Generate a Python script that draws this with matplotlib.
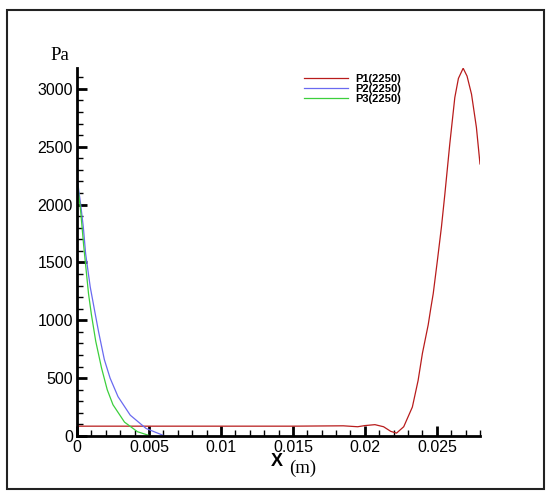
import numpy as np
import matplotlib.pyplot as plt
from matplotlib.patches import Rectangle
from matplotlib.ticker import MultipleLocator

# P1 (red) - pressure along x
x1 = [0.0, 0.005, 0.010, 0.015, 0.0185, 0.0195, 0.0200, 0.0207, 0.0213, 0.0218, 0.0222,
      0.0227, 0.0233, 0.0237, 0.0240, 0.0244, 0.02458, 0.02475, 0.02504, 0.02532, 0.02556,
      0.0259, 0.02625, 0.0265, 0.02683, 0.0271, 0.02741, 0.02775, 0.0280]
p1 = [85, 85, 85, 85, 88, 80, 90, 98, 80, 40, 25,
      80, 250, 480, 715, 960, 1103, 1230, 1517, 1805, 2092,
      2523, 2925, 3090, 3178, 3110, 2954, 2667, 2351]

# P2 (blue)
x2 = [0.0, 0.00025, 0.00044, 0.0006, 0.00092, 0.00122, 0.0015, 0.0019, 0.0023,
      0.00285, 0.0037, 0.0048, 0.0060]
p2 = [2235, 2006, 1804, 1575, 1287, 1086, 900, 660, 500, 340, 180, 65, 5]

# P3 (green)
x3 = [0.0, 0.00025, 0.00046, 0.0008, 0.001, 0.0013, 0.0017, 0.0021, 0.0025,
      0.0033, 0.0042, 0.0050]
p3 = [2220, 1948, 1650, 1230, 1050, 820, 590, 400, 270, 120, 37, 5]

labels = ["P1(2250)", "P2(2250)", "P3(2250)"]

fig = plt.figure(figsize=(5.56, 4.92), dpi=100)
ax = fig.add_axes([77/556, 56/492, 403/556, 368/492])

ax.plot(x1, p1, color="#b81c1c", lw=0.9, label=labels[0])
ax.plot(x2, p2, color="#6a6af0", lw=0.9, label=labels[1])
ax.plot(x3, p3, color="#3ccf3c", lw=0.9, label=labels[2])

ax.set_xlim(0, 0.028)
ax.set_ylim(0, 3180)
ax.spines["top"].set_visible(False)
ax.spines["right"].set_visible(False)
ax.spines["left"].set_linewidth(2)
ax.spines["bottom"].set_linewidth(2)

ax.xaxis.set_minor_locator(MultipleLocator(0.001))
ax.yaxis.set_major_locator(MultipleLocator(500))
ax.yaxis.set_minor_locator(MultipleLocator(100))
ax.set_xticks([0, 0.005, 0.01, 0.015, 0.02, 0.025])
ax.set_xticklabels(["0", "0.005", "0.01", "0.015", "0.02", "0.025"])
ax.tick_params(which="major", direction="in", length=7, width=2, labelsize=11.5, pad=3)
ax.tick_params(which="minor", direction="in", length=4, width=1)
for t in ax.get_xticklabels() + ax.get_yticklabels():
    t.set_family("Liberation Sans")

fig.text(50/556, 1 - 55/492, "Pa", family="Liberation Serif", fontsize=13.5, va="center", ha="left")
fig.text(277/556, 1 - 462/492, "X", family="Liberation Sans", fontweight="bold", fontsize=13, va="center", ha="center")
fig.text(289/556, 1 - 468/492, "(m)", family="Liberation Serif", fontsize=13.5, va="center", ha="left")

leg = ax.legend(loc="upper left", bbox_to_anchor=(217/403, 1 + 4/368), frameon=False,
                handlelength=4.0, handletextpad=0.6, labelspacing=0.0,
                prop={"family": "Liberation Sans", "size": 8, "weight": "bold"})

fig.add_artist(Rectangle((7/556, 3/492), 537/556, 479/492, transform=fig.transFigure,
                         fill=False, edgecolor="#222222", lw=1.5))

fig.savefig("out.png", dpi=100)
